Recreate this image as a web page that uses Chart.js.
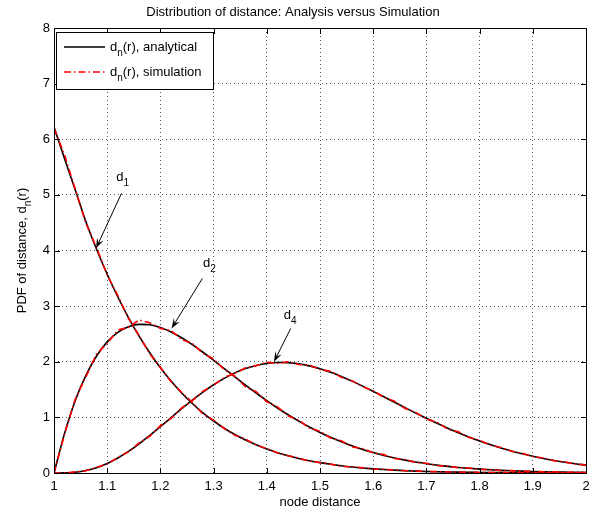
<!DOCTYPE html>
<html lang="en">
<head>
    <meta charset="UTF-8">
    <title>Distribution of distance</title>
    <script src="https://cdn.jsdelivr.net/npm/chart.js"></script>
    <style>
        body {
            margin: 0;
            padding: 0;
            background-color: #ffffff;
        }
        #chart-box {
            width: 597px;
            height: 515px;
        }
    </style>
</head>
<body>
    <div id="chart-box">
        <canvas id="distChart" width="597" height="515"></canvas>
    </div>

    <script>
        // node distance samples (x axis)
        const distances = [1.00, 1.02, 1.04, 1.06, 1.08, 1.10, 1.12, 1.14, 1.16, 1.18,
            1.20, 1.22, 1.24, 1.26, 1.28, 1.30, 1.32, 1.34, 1.36, 1.38,
            1.40, 1.42, 1.44, 1.46, 1.48, 1.50, 1.52, 1.54, 1.56, 1.58,
            1.60, 1.62, 1.64, 1.66, 1.68, 1.70, 1.72, 1.74, 1.76, 1.78,
            1.80, 1.82, 1.84, 1.86, 1.88, 1.90, 1.92, 1.94, 1.96, 1.98, 2.00];

        // analytical pdf of the n-th neighbour distance
        const d1Analytical = [6.22, 5.645, 5.089, 4.517, 4.023, 3.573, 3.164, 2.795, 2.461, 2.161,
            1.893, 1.653, 1.439, 1.250, 1.082, 0.935, 0.805, 0.691, 0.592, 0.506,
            0.431, 0.366, 0.310, 0.262, 0.221, 0.186, 0.156, 0.130, 0.108, 0.090,
            0.075, 0.062, 0.051, 0.042, 0.034, 0.028, 0.023, 0.019, 0.015, 0.012,
            0.010, 0.008, 0.006, 0.005, 0.004, 0.003, 0.003, 0.002, 0.002, 0.001, 0.001];
        const d2Analytical = [0, 0.717, 1.305, 1.754, 2.103, 2.357, 2.529, 2.630, 2.672, 2.664,
            2.616, 2.536, 2.431, 2.307, 2.171, 2.026, 1.878, 1.728, 1.581, 1.438,
            1.300, 1.169, 1.047, 0.932, 0.826, 0.729, 0.641, 0.561, 0.489, 0.424,
            0.367, 0.316, 0.271, 0.232, 0.197, 0.167, 0.142, 0.119, 0.100, 0.084,
            0.070, 0.058, 0.048, 0.040, 0.033, 0.027, 0.022, 0.018, 0.015, 0.012, 0.010];
        const d4Analytical = [0, 0.002, 0.014, 0.044, 0.096, 0.171, 0.269, 0.388, 0.525, 0.675,
            0.833, 0.995, 1.156, 1.310, 1.455, 1.587, 1.702, 1.800, 1.877, 1.934,
            1.971, 1.987, 1.984, 1.963, 1.926, 1.874, 1.810, 1.735, 1.652, 1.562,
            1.467, 1.370, 1.272, 1.174, 1.077, 0.983, 0.893, 0.806, 0.725, 0.648,
            0.577, 0.511, 0.451, 0.396, 0.346, 0.301, 0.261, 0.226, 0.194, 0.166, 0.142];

        // simulated histograms
        const d1Simulation = [6.20, 5.71, 5.10, 4.49, 4.05, 3.56, 3.19, 2.78, 2.47, 2.14,
            1.90, 1.64, 1.45, 1.27, 1.06, 0.95, 0.80, 0.68, 0.61, 0.50,
            0.44, 0.36, 0.31, 0.27, 0.21, 0.19, 0.16, 0.12, 0.11, 0.095,
            0.07, 0.066, 0.05, 0.04, 0.038, 0.026, 0.024, 0.018, 0.016, 0.011,
            0.010, 0.007, 0.007, 0.004, 0.005, 0.002, 0.004, 0.002, 0.001, 0.002, 0.001];
        const d2Simulation = [0, 0.70, 1.33, 1.73, 2.14, 2.33, 2.57, 2.62, 2.75, 2.70,
            2.60, 2.56, 2.40, 2.33, 2.15, 2.05, 1.86, 1.74, 1.55, 1.46,
            1.28, 1.19, 1.03, 0.95, 0.81, 0.75, 0.63, 0.58, 0.47, 0.44,
            0.36, 0.33, 0.26, 0.24, 0.19, 0.175, 0.135, 0.125, 0.095, 0.09,
            0.066, 0.062, 0.045, 0.043, 0.03, 0.03, 0.02, 0.02, 0.013, 0.014, 0.009];
        const d4Simulation = [0, 0.0, 0.02, 0.04, 0.10, 0.16, 0.28, 0.38, 0.54, 0.66,
            0.85, 0.98, 1.17, 1.30, 1.47, 1.58, 1.72, 1.79, 1.89, 1.93,
            1.99, 1.97, 2.00, 1.95, 1.94, 1.86, 1.83, 1.72, 1.66, 1.55,
            1.48, 1.36, 1.29, 1.16, 1.09, 0.97, 0.91, 0.79, 0.74, 0.64,
            0.59, 0.50, 0.46, 0.39, 0.355, 0.295, 0.27, 0.22, 0.20, 0.16, 0.145];

        const xTicks = [1, 1.1, 1.2, 1.3, 1.4, 1.5, 1.6, 1.7, 1.8, 1.9, 2];
        const xTickLabels = ['1', '1.1', '1.2', '1.3', '1.4', '1.5', '1.6', '1.7', '1.8', '1.9', '2'];
        const yTicks = [0, 1, 2, 3, 4, 5, 6, 7, 8];
        const yTickLabels = ['0', '1', '2', '3', '4', '5', '6', '7', '8'];

        // curve labels: subscript, text spot and arrow (data units)
        const noteSubs = ['1', '2', '4'];
        const noteTextAt = [[1.124, 5.32], [1.287, 3.77], [1.4385, 2.84]];
        const noteArrowFrom = [[1.127, 5.03], [1.279, 3.50], [1.445, 2.60]];
        const noteArrowTo = [[1.079, 4.04], [1.221, 2.60], [1.4135, 2.00]];

        const legendNames = ['(r), analytical', '(r), simulation'];

        const FONT = '"Liberation Sans", Arial, Helvetica, sans-serif';
        const RED = '#ff0000';
        const SIM_DASH = [7, 3, 1.5, 3];

        function toPoints(ys) {
            return distances.map((x, i) => ({ x: x, y: ys[i] }));
        }

        function analytical(ys) {
            return {
                data: toPoints(ys),
                borderColor: '#000000',
                borderWidth: 1.6,
                pointRadius: 0,
                cubicInterpolationMode: 'monotone',
                fill: false,
                order: 2
            };
        }

        function simulation(ys) {
            return {
                data: toPoints(ys),
                borderColor: RED,
                borderWidth: 1.6,
                borderDash: SIM_DASH,
                pointRadius: 0,
                tension: 0,
                fill: false,
                order: 1
            };
        }

        // writes "d" + subscript + rest, starting at x; returns total width
        function subText(ctx, x, y, sub, rest, size, measureOnly) {
            let w = 0;
            ctx.font = size + 'px ' + FONT;
            if (!measureOnly) ctx.fillText('d', x, y);
            w += ctx.measureText('d').width;
            const subSize = Math.round(size * 0.77);
            ctx.font = subSize + 'px ' + FONT;
            if (!measureOnly) ctx.fillText(sub, x + w, y + size * 0.45);
            w += ctx.measureText(sub).width;
            if (rest) {
                ctx.font = size + 'px ' + FONT;
                if (!measureOnly) ctx.fillText(rest, x + w, y);
                w += ctx.measureText(rest).width;
            }
            return w;
        }

        function drawArrow(ctx, x0, y0, x1, y1) {
            const ang = Math.atan2(y1 - y0, x1 - x0);
            const ux = Math.cos(ang), uy = Math.sin(ang);
            const len = 10, half = 3.5;
            ctx.beginPath();
            ctx.moveTo(x0, y0);
            ctx.lineTo(x1 - ux * 6, y1 - uy * 6);
            ctx.stroke();
            ctx.beginPath();
            ctx.moveTo(x1, y1);
            ctx.lineTo(x1 - ux * len - uy * half, y1 - uy * len + ux * half);
            ctx.lineTo(x1 - ux * len * 0.6, y1 - uy * len * 0.6);
            ctx.lineTo(x1 - ux * len + uy * half, y1 - uy * len - ux * half);
            ctx.closePath();
            ctx.fill();
        }

        // box, inward ticks, legend, curve labels and y title
        const matlabFrame = {
            id: 'matlabFrame',
            afterDatasetsDraw(chart) {
                const { ctx, chartArea: a, scales } = chart;
                const sx = scales.x, sy = scales.y;
                ctx.save();

                ctx.strokeStyle = '#000';
                ctx.lineWidth = 1;
                ctx.setLineDash([]);
                ctx.beginPath();
                ctx.rect(a.left + 0.5, a.top + 0.5, a.right - a.left, a.bottom - a.top);
                xTicks.forEach(v => {
                    const px = Math.round(sx.getPixelForValue(v)) + 0.5;
                    ctx.moveTo(px, a.bottom + 0.5);
                    ctx.lineTo(px, a.bottom - 5);
                    ctx.moveTo(px, a.top + 0.5);
                    ctx.lineTo(px, a.top + 6);
                });
                yTicks.forEach(v => {
                    const py = Math.round(sy.getPixelForValue(v)) + 0.5;
                    ctx.moveTo(a.left + 0.5, py);
                    ctx.lineTo(a.left + 6, py);
                    ctx.moveTo(a.right + 0.5, py);
                    ctx.lineTo(a.right - 5, py);
                });
                ctx.stroke();

                // curve labels with arrows
                ctx.fillStyle = '#000';
                ctx.textBaseline = 'middle';
                ctx.textAlign = 'left';
                noteSubs.forEach((s, i) => {
                    const tx = sx.getPixelForValue(noteTextAt[i][0]);
                    const ty = sy.getPixelForValue(noteTextAt[i][1]);
                    ctx.font = '13px ' + FONT;
                    const dw = ctx.measureText('d').width;
                    subText(ctx, tx - dw / 2, ty, s, '', 13);
                    drawArrow(ctx,
                        sx.getPixelForValue(noteArrowFrom[i][0]), sy.getPixelForValue(noteArrowFrom[i][1]),
                        sx.getPixelForValue(noteArrowTo[i][0]), sy.getPixelForValue(noteArrowTo[i][1]));
                });

                // legend
                const lx = a.left + 2, ly = a.top + 4, lw = 157, lh = 57;
                ctx.fillStyle = '#fff';
                ctx.fillRect(lx, ly, lw, lh);
                ctx.strokeStyle = '#000';
                ctx.lineWidth = 1;
                ctx.strokeRect(lx + 0.5, ly + 0.5, lw, lh);
                legendNames.forEach((name, i) => {
                    const cy = ly + 15 + i * 25;
                    ctx.beginPath();
                    ctx.strokeStyle = i === 0 ? '#000' : RED;
                    ctx.lineWidth = 1.6;
                    ctx.setLineDash(i === 0 ? [] : SIM_DASH);
                    ctx.moveTo(lx + 8, cy);
                    ctx.lineTo(lx + 49, cy);
                    ctx.stroke();
                    ctx.setLineDash([]);
                    ctx.fillStyle = '#000';
                    subText(ctx, lx + 54, cy, 'n', name, 13);
                });

                // rotated y axis title
                const yText = 'PDF of distance, ';
                ctx.font = '13px ' + FONT;
                const w1 = ctx.measureText(yText).width;
                const w2 = subText(ctx, 0, 0, 'n', '(r)', 13, true);
                ctx.translate(22, (a.top + a.bottom) / 2);
                ctx.rotate(-Math.PI / 2);
                ctx.fillStyle = '#000';
                ctx.font = '13px ' + FONT;
                const start = -(w1 + w2) / 2;
                ctx.fillText(yText, start, 0);
                subText(ctx, start + w1, 0, 'n', '(r)', 13);

                ctx.restore();
            }
        };

        function gridColor(edges) {
            return c => (c.tick && edges.includes(c.tick.value)) ? 'rgba(0,0,0,0)' : '#555555';
        }

        new Chart(document.getElementById('distChart'), {
            type: 'line',
            data: {
                datasets: [
                    analytical(d1Analytical),
                    analytical(d2Analytical),
                    analytical(d4Analytical),
                    simulation(d1Simulation),
                    simulation(d2Simulation),
                    simulation(d4Simulation)
                ]
            },
            options: {
                responsive: false,
                animation: false,
                devicePixelRatio: 1,
                layout: { padding: { left: 0, right: 11, top: 0, bottom: 0 } },
                plugins: {
                    legend: { display: false },
                    tooltip: { enabled: false },
                    title: {
                        display: true,
                        text: 'Distribution of distance: Analysis versus Simulation',
                        color: '#000',
                        font: { family: FONT, size: 13, weight: 'normal' },
                        padding: { top: 5, bottom: 7.4 }
                    }
                },
                scales: {
                    x: {
                        type: 'linear',
                        min: 1,
                        max: 2,
                        afterBuildTicks: s => { s.ticks = xTicks.map(v => ({ value: v })); },
                        afterFit: s => { s.height = 42; },
                        ticks: {
                            autoSkip: false,
                            maxRotation: 0,
                            padding: 6,
                            color: '#000',
                            font: { family: FONT, size: 13 },
                            callback: (v, i) => xTickLabels[i]
                        },
                        grid: {
                            drawTicks: false,
                            color: gridColor([1, 2]),
                            lineWidth: 1
                        },
                        border: { display: false, dash: [1, 3] },
                        title: {
                            display: true,
                            text: 'node distance',
                            color: '#000',
                            font: { family: FONT, size: 13 },
                            padding: { top: 0, bottom: 5 }
                        }
                    },
                    y: {
                        min: 0,
                        max: 8,
                        afterBuildTicks: s => { s.ticks = yTicks.map(v => ({ value: v })); },
                        afterFit: s => { s.width = 54; },
                        ticks: {
                            padding: 4,
                            color: '#000',
                            font: { family: FONT, size: 13 },
                            callback: (v, i) => yTickLabels[i]
                        },
                        grid: {
                            drawTicks: false,
                            color: gridColor([0, 8]),
                            lineWidth: 1
                        },
                        border: { display: false, dash: [1, 3] }
                    }
                }
            },
            plugins: [matlabFrame]
        });
    </script>
</body>
</html>
